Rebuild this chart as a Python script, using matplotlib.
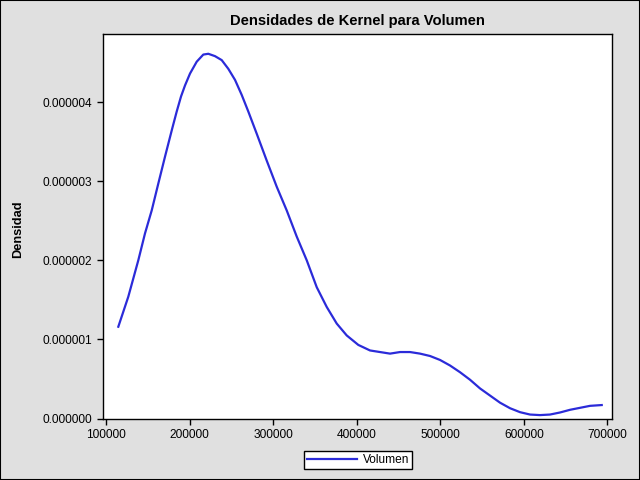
import matplotlib
matplotlib.use("Agg")
import matplotlib.pyplot as plt
from matplotlib.ticker import FormatStrFormatter, FixedLocator

volumen = [114720, 126690, 138660, 146680, 154700, 162600, 170620, 179360, 184620,
           189770, 194560, 200540, 208560, 216460, 222440, 230460, 238480, 246380,
           254400, 262420, 270320, 280370, 292340, 304310, 316280, 328250, 340220,
           352190, 364160, 376130, 388090, 401970, 415980, 427950, 439920, 451890,
           463860, 475830, 487800, 499770, 511730, 523700, 535670, 547640, 559610,
           571580, 583550, 595520, 607490, 619460, 631430, 643400, 655370, 667340,
           679310, 693310]
densidad_e6 = [1.16, 1.54, 2.00, 2.34, 2.63, 2.97, 3.31, 3.67, 3.88,
               4.07, 4.21, 4.36, 4.51, 4.60, 4.61, 4.58, 4.53, 4.42,
               4.28, 4.09, 3.88, 3.60, 3.26, 2.93, 2.63, 2.30, 2.00,
               1.66, 1.41, 1.20, 1.05, 0.93, 0.86, 0.84, 0.82, 0.84,
               0.84, 0.82, 0.79, 0.74, 0.67, 0.585, 0.49, 0.38, 0.29,
               0.20, 0.13, 0.08, 0.05, 0.043, 0.05, 0.076, 0.11, 0.135,
               0.16, 0.17]
densidad = [v * 1e-6 for v in densidad_e6]
x_ticks = [100000, 200000, 300000, 400000, 500000, 600000, 700000]
y_ticks = [0.0, 0.000001, 0.000002, 0.000003, 0.000004]

plt.rcParams['font.family'] = ['Liberation Sans', 'DejaVu Sans']

fig = plt.figure(figsize=(6.4, 4.8), dpi=100, facecolor='#e0e0e0')
ax = fig.add_axes([103/640, 1 - 418.5/480, (612-103)/640, (418.5-34)/480])
ax.set_facecolor('white')

ax.plot(volumen, densidad, color='#2b2bd9', lw=1.6, label='Volumen',
        solid_joinstyle='round')

ax.set_xlim(96400, 705600)
ax.set_ylim(0, 4.86e-6)
ax.xaxis.set_major_locator(FixedLocator(x_ticks))
ax.yaxis.set_major_locator(FixedLocator(y_ticks))
ax.yaxis.set_major_formatter(FormatStrFormatter('%.6f'))
ax.xaxis.set_major_formatter(FormatStrFormatter('%d'))
ax.tick_params(direction='out', length=4.5, width=1, labelsize=8.6, colors='black', pad=3)
ax.tick_params(axis='y', pad=3.5)
for s in ax.spines.values():
    s.set_linewidth(1)
    s.set_color('black')

fig.text(357.5/640, 1 - 20.5/480, 'Densidades de Kernel para Volumen', ha='center', va='center',
         fontsize=10.6, fontweight='bold')
fig.text(18/640, 1 - 229/480, 'Densidad', ha='center', va='center', rotation=90,
         fontsize=9.2, fontweight='bold')

leg = fig.legend(loc='center', bbox_to_anchor=(358/640, 1 - 460/480), fontsize=8.6,
                 frameon=True, fancybox=False, edgecolor='black', facecolor='white',
                 framealpha=1, handlelength=4.2, borderpad=0.25, handletextpad=0.45,
                 borderaxespad=0)
leg.get_frame().set_linewidth(1)

border = plt.Rectangle((0, 0), 1, 1, transform=fig.transFigure, fill=False,
                       edgecolor='black', lw=1.5)
fig.patches.append(border)

fig.savefig('out.png', dpi=100, facecolor=fig.get_facecolor())
